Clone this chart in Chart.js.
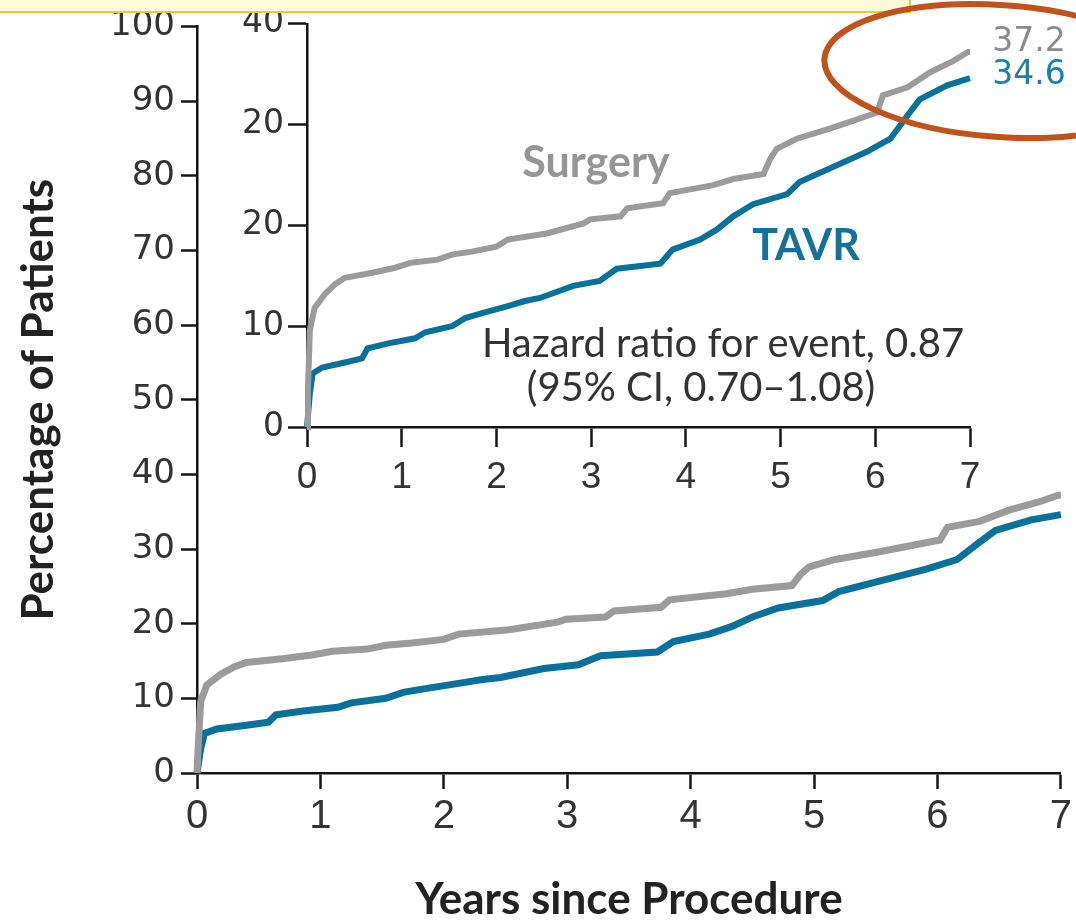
<!DOCTYPE html>
<html>
<head>
<meta charset="utf-8">
<script src="https://cdn.jsdelivr.net/npm/chart.js@4.4.1/dist/chart.umd.min.js"></script>
<style>
  html, body { margin: 0; padding: 0; background: #fff; }
  body { width: 1076px; height: 924px; position: relative; overflow: hidden; }
  canvas { position: absolute; }
  #mainChart { left: 0; top: 0; }
  #insetChart { left: 220px; top: 0; }
  .note { position: absolute; white-space: nowrap; line-height: 1; transform: translate(-50%, -50%); }
  .bold { font-family: Lato, "Open Sans", sans-serif; font-weight: 700; font-size: 43px; }
  .hr { font-family: Lato, "Open Sans", sans-serif; font-size: 40px; color: #333; }
  .end { font-family: "DejaVu Sans", sans-serif; font-size: 33px; }
  .yellow-box { position: absolute; left: -3px; top: -4px; width: 910px; height: 13px;
    background: #fffbd8; border: 2px solid #f4c63a; }
  svg { position: absolute; left: 0; top: 0; }
</style>
</head>
<body>
<canvas id="mainChart" width="1076" height="924"></canvas>
<canvas id="insetChart" width="800" height="520"></canvas>

<div class="note bold" style="left:596px; top:160px; color:#959595;">Surgery</div>
<div class="note bold" style="left:806px; top:243px; color:#16709a;">TAVR</div>
<div class="note hr" style="left:723px; top:342px;">Hazard ratio for event, 0.87</div>
<div class="note hr" style="left:701px; top:386px;">(95% CI, 0.70–1.08)</div>
<div class="note end" style="left:1029px; top:39px; color:#8c8c8c;">37.2</div>
<div class="note end" style="left:1029px; top:72px; color:#1f80a8;">34.6</div>

<div class="yellow-box"></div>
<svg width="1076" height="924">
  <ellipse cx="1000" cy="71" rx="176" ry="66" fill="none" stroke="#c0521c" stroke-width="6"
    transform="rotate(4 1000 71)"></ellipse>
</svg>

<script>
// years since procedure
const surgeryTime = [0, 0.01, 0.03, 0.08, 0.19, 0.3, 0.4, 0.69, 0.93, 1.1, 1.38, 1.53, 1.74, 2.0, 2.12,
  2.53, 2.92, 2.99, 3.31, 3.38, 3.76, 3.83, 4.29, 4.5, 4.82, 4.89, 4.96, 5.17, 5.52, 5.77, 6.02, 6.08,
  6.34, 6.58, 6.82, 6.98, 7.0];
const surgeryValue = [0, 3.6, 9.6, 11.8, 13.2, 14.2, 14.8, 15.3, 15.8, 16.3, 16.6, 17.1, 17.4, 17.9, 18.6,
  19.2, 20.2, 20.6, 20.9, 21.7, 22.2, 23.2, 24.0, 24.6, 25.1, 26.6, 27.6, 28.6, 29.6, 30.4, 31.2, 32.9,
  33.7, 35.2, 36.3, 37.2, 37.2];

const tavrTime = [0, 0.03, 0.06, 0.16, 0.4, 0.58, 0.64, 0.86, 1.14, 1.25, 1.53, 1.67, 1.85, 2.12, 2.3,
  2.46, 2.81, 3.09, 3.27, 3.73, 3.86, 4.15, 4.33, 4.5, 4.71, 5.07, 5.2, 5.6, 5.91, 6.16, 6.34, 6.47,
  6.76, 7.0];
const tavrValue = [0, 3.3, 5.3, 5.9, 6.4, 6.8, 7.8, 8.3, 8.8, 9.4, 10.0, 10.8, 11.3, 12.0, 12.5,
  12.8, 14.0, 14.5, 15.7, 16.2, 17.6, 18.6, 19.6, 20.9, 22.1, 23.1, 24.3, 26.0, 27.3, 28.6, 30.9, 32.5,
  33.9, 34.6];

const xTickLabels = ["0", "1", "2", "3", "4", "5", "6", "7"];
const yTickLabels = ["0", "10", "20", "30", "40", "50", "60", "70", "80", "90", "100"];
const insetYTickLabels = ["0", "10", "20", "20", "40"];

const GRAY = "#9b9b9b";
const BLUE = "#07709b";
const AXIS = "#141414";
const TEXT = "#333333";
const narrow = "'Liberation Sans Narrow', 'Liberation Sans', sans-serif";
const titleFont = { family: "Lato, 'Open Sans', sans-serif", size: 44, weight: "bold", lineHeight: 1.1 };

function toPoints(xs, ys) {
  return xs.map((x, i) => ({ x: x, y: ys[i] }));
}

function makeDatasets(width) {
  return [
    {
      label: "Surgery",
      data: toPoints(surgeryTime, surgeryValue),
      borderColor: GRAY,
      borderWidth: width,
      pointRadius: 0,
      tension: 0,
      clip: false,
      borderJoinStyle: "miter",
    },
    {
      label: "TAVR",
      data: toPoints(tavrTime, tavrValue),
      borderColor: BLUE,
      borderWidth: width,
      pointRadius: 0,
      tension: 0,
      clip: false,
      borderJoinStyle: "miter",
    },
  ];
}

function axisGrid(len) {
  return {
    drawOnChartArea: false,
    drawTicks: true,
    tickLength: len,
    tickColor: AXIS,
    tickWidth: 2.5,
  };
}

const axisBorder = { display: true, color: AXIS, width: 2.5 };

new Chart(document.getElementById("mainChart"), {
  type: "line",
  data: { datasets: makeDatasets(7) },
  options: {
    responsive: false,
    animation: false,
    events: [],
    layout: { padding: { top: 20, right: 12, left: 0, bottom: 0 } },
    plugins: { legend: { display: false }, tooltip: { enabled: false } },
    scales: {
      x: {
        type: "linear",
        min: 0,
        max: 7,
        afterFit: (scale) => { scale.height = 151; },
        grid: axisGrid(16),
        border: axisBorder,
        ticks: {
          stepSize: 1,
          autoSkip: false,
          maxRotation: 0,
          padding: 4,
          color: TEXT,
          font: { family: narrow, size: 40 },
          callback: (value, index) => xTickLabels[index],
        },
        title: {
          display: true,
          text: "Years since Procedure",
          color: "#222",
          font: titleFont,
          padding: { top: 0, bottom: 0 },
        },
      },
      y: {
        min: 0,
        max: 100,
        afterFit: (scale) => { scale.width = 197; },
        grid: axisGrid(16),
        border: axisBorder,
        ticks: {
          stepSize: 10,
          autoSkip: false,
          padding: 6,
          color: TEXT,
          font: { family: "'DejaVu Sans', sans-serif", size: 34 },
          callback: (value, index) => yTickLabels[index],
        },
        title: {
          display: true,
          text: "Percentage of Patients",
          color: "#222",
          font: titleFont,
          padding: { top: 15, bottom: 0 },
        },
      },
    },
  },
});

new Chart(document.getElementById("insetChart"), {
  type: "line",
  data: { datasets: makeDatasets(6) },
  options: {
    responsive: false,
    animation: false,
    events: [],
    layout: { padding: { top: 21, right: 50, left: 0, bottom: 0 } },
    plugins: { legend: { display: false }, tooltip: { enabled: false } },
    scales: {
      x: {
        type: "linear",
        min: 0,
        max: 7,
        afterFit: (scale) => { scale.height = 93; },
        grid: axisGrid(20),
        border: axisBorder,
        ticks: {
          stepSize: 1,
          autoSkip: false,
          maxRotation: 0,
          padding: 9,
          color: TEXT,
          font: { family: narrow, size: 37 },
          callback: (value, index) => xTickLabels[index],
        },
      },
      y: {
        min: 0,
        max: 40,
        afterFit: (scale) => { scale.width = 87; },
        grid: axisGrid(19),
        border: axisBorder,
        ticks: {
          stepSize: 10,
          autoSkip: false,
          padding: 4,
          color: TEXT,
          font: { family: "'DejaVu Sans', sans-serif", size: 33 },
          callback: (value, index) => insetYTickLabels[index],
        },
      },
    },
  },
});
</script>
</body>
</html>
